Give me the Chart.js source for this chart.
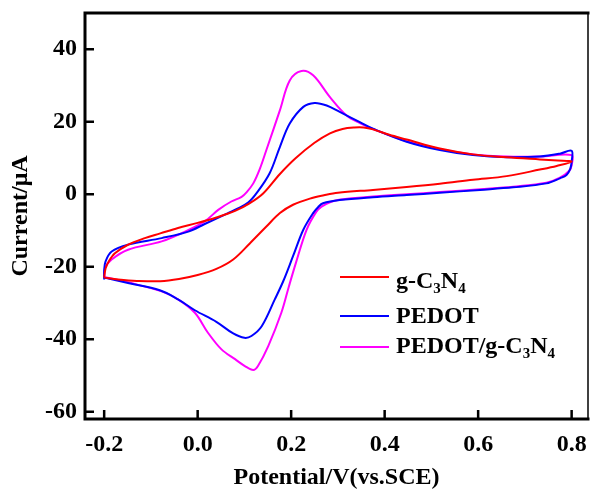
<!DOCTYPE html>
<html>
<head>
<meta charset="utf-8">
<script src="https://cdn.jsdelivr.net/npm/chart.js@4"></script>
<style>
  html, body { margin: 0; padding: 0; background: #fff; }
</style>
</head>
<body>
<canvas id="cvChart" width="590" height="490"></canvas>
<script>
// cyclic voltammograms, each loop: forward scan then reverse scan
const seriesNames = ['g-C3N4', 'PEDOT', 'PEDOT/g-C3N4'];

const gcnX = [-0.2, -0.197, -0.19, -0.177, -0.15, -0.113, -0.08, -0.042, 0.0, 0.04, 0.08, 0.11, 0.14, 0.176, 0.21, 0.25, 0.283, 0.31, 0.335, 0.355, 0.375, 0.41, 0.447, 0.518, 0.589, 0.661, 0.732, 0.77, 0.8,
  0.768, 0.732, 0.661, 0.589, 0.518, 0.447, 0.375, 0.3, 0.27, 0.24, 0.204, 0.176, 0.147, 0.112, 0.076, 0.04, 0.0, -0.04, -0.08, -0.13, -0.17, -0.2];
const gcnY = [-23, -20.5, -18.5, -16.3, -14, -12.1, -10.8, -9.3, -7.9, -6.4, -4.6, -2.6, 0.2, 5.6, 10.0, 14.2, 16.8, 18.0, 18.4, 18.4, 17.9, 16.4, 15.1, 12.6, 11.0, 10.2, 9.6, 9.3, 9.0,
  7.8, 6.8, 5.0, 4.0, 2.9, 2.0, 1.2, 0.4, -0.3, -1.2, -2.9, -5.2, -8.9, -13.5, -18.0, -20.6, -22.3, -23.4, -24.0, -23.9, -23.5, -23.0];

const pedotX = [-0.2, -0.2, -0.197, -0.184, -0.149, -0.077, -0.02, 0.015, 0.065, 0.085, 0.108, 0.126, 0.154, 0.176, 0.197, 0.226, 0.25, 0.276, 0.304, 0.347, 0.375, 0.447, 0.518, 0.589, 0.661, 0.732, 0.775, 0.8,
  0.8, 0.797, 0.789, 0.775, 0.746, 0.675, 0.604, 0.518, 0.447, 0.375, 0.304, 0.268, 0.258, 0.247, 0.226, 0.204, 0.183, 0.165, 0.137, 0.115, 0.1, 0.076, 0.04, -0.006, -0.042, -0.081, -0.149, -0.2];
const pedotY = [-23.5, -21, -18.5, -15.8, -13.9, -12.1, -10.3, -8.2, -5.2, -4.0, -2.3, 0.3, 5.8, 13.1, 19.5, 24.1, 25.2, 24.5, 22.7, 19.9, 18.1, 14.5, 12.2, 10.8, 10.2, 10.4, 11.2, 12.0,
  9.0, 7.0, 5.3, 4.4, 3.0, 1.9, 1.2, 0.4, -0.2, -0.8, -1.6, -2.5, -3.5, -5.2, -9.8, -17.1, -24.0, -29.0, -36.4, -39.1, -39.6, -38.4, -35.2, -32.0, -29.0, -26.5, -24.5, -23.0];

const compX = [-0.2, -0.198, -0.184, -0.149, -0.077, -0.027, 0.015, 0.044, 0.072, 0.094, 0.105, 0.119, 0.133, 0.147, 0.176, 0.197, 0.222, 0.247, 0.283, 0.318, 0.347, 0.375, 0.447, 0.518, 0.589, 0.661, 0.732, 0.8,
  0.8, 0.795, 0.775, 0.746, 0.675, 0.604, 0.518, 0.447, 0.375, 0.33, 0.3, 0.283, 0.265, 0.254, 0.233, 0.21, 0.195, 0.179, 0.151, 0.129, 0.119, 0.101, 0.08, 0.051, 0.022, -0.006, -0.042, -0.077, -0.149, -0.2];
const compY = [-23, -20.3, -18.0, -15.3, -13.0, -10.3, -7.5, -4.3, -2.0, -0.7, 0.6, 3.0, 7.0, 12.2, 23.2, 31.4, 34.0, 32.8, 26.8, 21.8, 19.6, 18.0, 14.6, 12.4, 11.0, 10.4, 10.4, 10.8,
  8.0, 6.5, 4.6, 3.2, 2.1, 1.4, 0.6, 0.0, -0.6, -1.1, -1.6, -2.2, -3.4, -4.8, -9.8, -19.0, -25.5, -32.7, -41.9, -47.4, -48.5, -47.4, -45.5, -42.8, -38.2, -32.7, -29.0, -26.8, -24.3, -22.8];

const seriesColors = ['#ff0000', '#0000ff', '#ff00ff'];

const xTicks = [-0.2, 0.0, 0.2, 0.4, 0.6, 0.8];
const yTicks = [-60, -40, -20, 0, 20, 40];

const FONT = "'Liberation Serif', 'Times New Roman', serif";

function toPoints(xs, ys) {
    return xs.map((x, i) => ({x: x, y: ys[i]}));
}

// frame and inward tick marks
const framePlugin = {
    id: 'frame',
    afterDraw(chart) {
        const ctx = chart.ctx;
        const a = chart.chartArea;
        const xs = chart.scales.x, ys = chart.scales.y;
        ctx.save();
        ctx.strokeStyle = '#000';
        ctx.lineCap = 'square';
        ctx.lineWidth = 3;
        ctx.beginPath();
        ctx.moveTo(a.left, a.top);
        ctx.lineTo(a.left, a.bottom);
        ctx.lineTo(a.right, a.bottom);
        ctx.moveTo(a.left, a.top);
        ctx.lineTo(a.right, a.top);
        ctx.stroke();
        ctx.lineWidth = 1.5;
        ctx.beginPath();
        ctx.moveTo(a.right, a.top);
        ctx.lineTo(a.right, a.bottom);
        ctx.stroke();

        ctx.lineWidth = 2.5;
        ctx.lineCap = 'butt';
        ctx.beginPath();
        xTicks.forEach(v => {
            const px = xs.getPixelForValue(v);
            ctx.moveTo(px, a.bottom);
            ctx.lineTo(px, a.bottom - 9);
        });
        yTicks.forEach(v => {
            const py = ys.getPixelForValue(v);
            ctx.moveTo(a.left, py);
            ctx.lineTo(a.left + 9, py);
        });
        ctx.stroke();
        ctx.restore();
    }
};

// legend with subscripts
const legendPlugin = {
    id: 'subLegend',
    afterDraw(chart) {
        const ctx = chart.ctx;
        const lineY = [277, 316, 347];
        const baseY = [288, 322.7, 353];
        const parts = [
            [['g-C', 0], ['3', 1], ['N', 0], ['4', 1]],
            [['PEDOT', 0]],
            [['PEDOT/g-C', 0], ['3', 1], ['N', 0], ['4', 1]]
        ];
        ctx.save();
        parts.forEach((p, i) => {
            ctx.strokeStyle = seriesColors[i];
            ctx.lineWidth = 2;
            ctx.beginPath();
            ctx.moveTo(340, lineY[i]);
            ctx.lineTo(389, lineY[i]);
            ctx.stroke();
            let x = 396;
            ctx.fillStyle = '#000';
            ctx.textBaseline = 'alphabetic';
            p.forEach(([t, sub]) => {
                ctx.font = sub ? 'bold 15px ' + FONT : 'bold 24px ' + FONT;
                ctx.fillText(t, x, baseY[i] + (sub ? 5 : 0));
                x += ctx.measureText(t).width;
            });
        });
        ctx.restore();
    }
};

function noEdgePadding(s) {
    s.paddingTop = 0;
    s.paddingBottom = 0;
    s.paddingLeft = 0;
    s.paddingRight = 0;
}

const datasets = [
    {label: seriesNames[0], data: toPoints(gcnX, gcnY), borderColor: seriesColors[0]},
    {label: seriesNames[1], data: toPoints(pedotX, pedotY), borderColor: seriesColors[1]},
    {label: seriesNames[2], data: toPoints(compX, compY), borderColor: seriesColors[2]}
].map(d => Object.assign(d, {showLine: true, pointRadius: 0, borderWidth: 2, tension: 0.35, fill: false}));

new Chart(document.getElementById('cvChart'), {
    type: 'scatter',
    data: {datasets: datasets},
    options: {
        responsive: false,
        animation: false,
        devicePixelRatio: 1,
        layout: {padding: {left: 0, right: 2, top: 13, bottom: 0}},
        plugins: {legend: {display: false}, tooltip: {enabled: false}},
        scales: {
            x: {
                type: 'linear',
                min: -0.241,
                max: 0.835,
                grid: {display: false, drawTicks: false},
                border: {display: false},
                afterBuildTicks: s => { s.ticks = xTicks.map(v => ({value: v})); },
                afterFit: s => { s.height = 71; noEdgePadding(s); },
                ticks: {
                    color: '#000',
                    padding: 11,
                    maxRotation: 0,
                    font: {family: FONT, size: 24, weight: 'bold'},
                    callback: v => v.toFixed(1)
                },
                title: {
                    display: true,
                    text: 'Potential/V(vs.SCE)',
                    color: '#000',
                    padding: {top: 0, bottom: -2},
                    font: {family: FONT, size: 24, weight: 'bold'}
                }
            },
            y: {
                type: 'linear',
                min: -62,
                max: 50,
                grid: {display: false, drawTicks: false},
                border: {display: false},
                afterBuildTicks: s => { s.ticks = yTicks.map(v => ({value: v})); },
                afterFit: s => { s.width = 85; noEdgePadding(s); },
                ticks: {
                    color: '#000',
                    padding: 8,
                    font: {family: FONT, size: 24, weight: 'bold'},
                    callback: v => String(v)
                },
                title: {
                    display: true,
                    text: 'Current/μA',
                    color: '#000',
                    padding: {top: 6, bottom: 0},
                    font: {family: FONT, size: 24, weight: 'bold'}
                }
            }
        }
    },
    plugins: [framePlugin, legendPlugin]
});
</script>
</body>
</html>
